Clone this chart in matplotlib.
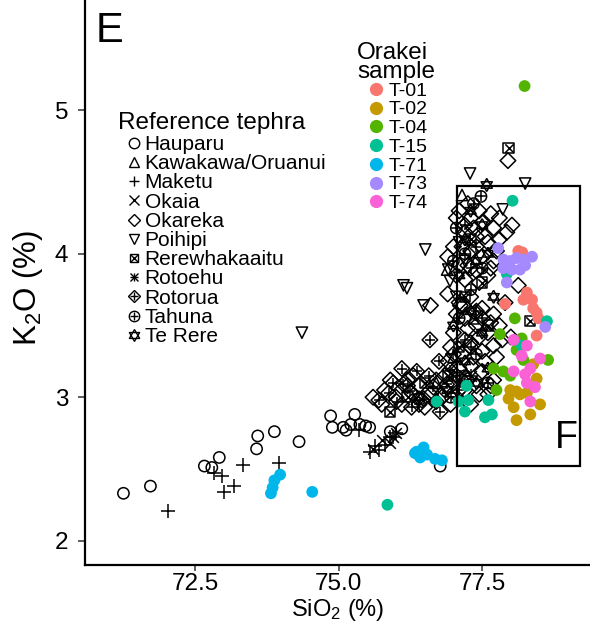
import matplotlib
matplotlib.use("Agg")
import matplotlib.pyplot as plt
from matplotlib.lines import Line2D
from matplotlib.patches import Rectangle

plt.rcParams['font.family'] = ['Liberation Sans', 'DejaVu Sans']
plt.rcParams['mathtext.fontset'] = 'custom'
plt.rcParams['mathtext.rm'] = 'Liberation Sans'
plt.rcParams['mathtext.it'] = 'Liberation Sans:italic'

# ---------------- Reference tephra (SiO2, K2O) ----------------
hauparu_x = [71.25, 71.72, 72.66, 72.79, 72.92, 73.59, 73.57, 73.88, 74.31, 74.86, 74.89, 75.08,
             75.13, 75.28, 75.21, 75.37, 75.47, 75.54, 76.10, 76.77, 75.90]
hauparu_y = [2.33, 2.38, 2.52, 2.51, 2.58, 2.73, 2.64, 2.76, 2.69, 2.87, 2.79, 2.79,
             2.77, 2.88, 2.81, 2.81, 2.80, 2.79, 2.78, 2.52, 2.76]

kawakawa_x = [77.15, 76.89, 77.35, 77.00, 76.70]
kawakawa_y = [4.41, 3.89, 3.55, 3.28, 3.10]

maketu_x = [72.02, 73.01, 73.18, 72.82, 72.96, 73.34, 73.96, 75.55, 75.64, 75.36, 75.80, 75.90, 75.70]
maketu_y = [2.21, 2.34, 2.38, 2.47, 2.45, 2.53, 2.54, 2.62, 2.66, 2.77, 2.67, 2.72, 2.63]

okaia_x = [75.75, 75.90, 75.60]
okaia_y = [2.70, 2.68, 2.64]

okareka_x = [77.10, 77.30, 77.50, 77.70, 77.20, 77.40, 77.60, 77.80, 77.00, 77.30, 77.50, 77.70,
             77.10, 77.40, 77.60, 76.90, 77.20, 77.80, 77.95, 78.02, 77.93,
             77.05, 77.25, 77.45, 77.65, 77.15, 77.35, 77.55, 77.75, 77.05, 77.25, 77.45, 77.65,
             76.90, 77.10, 77.30, 77.50, 77.70, 77.90, 78.13, 77.20, 77.40, 77.60, 77.80, 78.00,
             77.00, 77.30, 77.50, 77.70, 76.60, 77.12, 77.17, 77.38,
             77.05, 77.25, 77.45, 77.65, 77.85, 76.95, 77.15, 77.35, 77.55, 77.75,
             76.90, 77.10, 77.30, 77.50, 77.70, 77.00, 77.20, 77.40, 77.60, 76.80, 77.30,
             76.85, 77.05, 77.25, 77.45, 77.65, 76.95,
             75.80, 76.00, 76.20, 76.40, 76.60, 76.10, 76.50, 75.90,
             75.60, 75.75, 76.30, 76.70, 76.85, 76.45]
okareka_y = [4.30, 4.25, 4.22, 4.18, 4.15, 4.12, 4.08, 4.10, 4.05, 4.02, 3.98, 3.95,
             3.92, 3.88, 3.85, 3.98, 3.82, 4.25, 4.65, 4.20, 4.15,
             4.25, 4.35, 4.30, 4.28, 4.05, 4.18, 4.12, 4.02, 3.85, 3.92, 3.80, 3.90,
             3.72, 3.66, 3.70, 3.62, 3.58, 3.66, 3.78, 3.55, 3.50, 3.45, 3.50, 3.42,
             3.45, 3.38, 3.32, 3.36, 3.64, 3.64, 3.64, 3.59,
             3.58, 3.48, 3.42, 3.52, 3.40, 3.35, 3.30, 3.28, 3.25, 3.28,
             3.25, 3.20, 3.22, 3.18, 3.12, 3.10, 3.05, 3.08, 3.02, 3.00, 2.95,
             3.15, 3.15, 3.12, 3.02, 3.08, 2.95,
             3.05, 3.00, 3.12, 3.08, 3.02, 2.95, 2.93, 3.12,
             3.00, 2.95, 3.15, 3.12, 3.05, 2.98]

poihipi_x = [74.36, 76.51, 76.19, 76.13, 76.48, 76.94, 76.91, 77.29, 78.25, 77.86, 77.10, 77.20, 77.05]
poihipi_y = [3.45, 4.03, 3.76, 3.78, 3.64, 3.81, 3.89, 4.56, 4.49, 4.31, 4.08, 3.95, 3.70]

rerew_x = [77.96, 78.34, 77.30, 77.50, 77.20, 77.60, 77.10, 76.90, 76.20, 75.90, 76.50]
rerew_y = [4.74, 3.53, 4.10, 3.80, 3.70, 3.50, 3.35, 3.15, 3.00, 2.90, 3.10]

rotoehu_x = [75.95, 76.00, 77.10, 77.30]
rotoehu_y = [2.72, 2.75, 3.00, 3.15]

rotorua_x = [75.87, 76.13, 76.36, 76.57, 76.94, 76.27, 76.48, 76.77, 76.01, 76.25, 76.65, 76.88,
             77.12, 76.59, 75.70, 76.10, 76.75, 77.00, 77.20, 77.40, 77.30,
             75.95, 76.40, 76.70, 76.20, 77.10, 77.30, 77.50, 77.20, 77.40]
rotorua_y = [3.03, 3.09, 3.18, 3.15, 3.19, 2.93, 2.99, 2.90, 2.97, 3.04, 3.07, 3.09,
             3.13, 3.40, 2.98, 3.20, 3.25, 3.30, 3.40, 3.60, 3.90,
             3.10, 2.95, 2.97, 3.08, 3.05, 3.35, 3.55, 4.20, 4.05]

tahuna_x = [77.48, 77.35, 77.05, 77.20, 77.00, 77.50, 77.30, 77.10, 77.40, 77.20, 76.95, 77.60]
tahuna_y = [4.40, 4.35, 4.18, 4.00, 3.95, 3.90, 3.75, 3.55, 3.30, 3.15, 3.00, 3.10]

terere_x = [77.58, 77.30, 77.50, 77.20, 77.60, 77.40, 77.10, 77.30, 77.50, 77.20, 77.60, 77.40,
            76.90, 76.40, 77.00, 77.70]
terere_y = [4.48, 4.30, 4.20, 4.10, 4.00, 3.95, 3.85, 3.60, 3.45, 3.25, 3.20, 3.10,
            3.05, 3.00, 3.50, 3.70]

# ---------------- Orakei samples ----------------
t01_x = [78.13, 78.20, 78.28, 78.22, 78.37, 78.39, 78.45, 78.48, 77.90, 78.45]
t01_y = [4.02, 4.01, 3.73, 3.68, 3.68, 3.62, 3.59, 3.55, 3.65, 3.43]
t02_x = [78.39, 78.45, 77.99, 78.16, 78.10, 78.28, 78.05, 78.10, 78.34, 78.51, 77.96]
t02_y = [3.23, 3.13, 3.05, 3.02, 3.04, 3.03, 2.93, 2.84, 2.88, 2.95, 2.99]
t04_x = [78.24, 78.07, 77.81, 78.19, 78.10, 78.65, 77.70, 77.87, 77.99, 77.75, 78.22]
t04_y = [5.17, 3.55, 3.44, 3.41, 3.33, 3.26, 3.20, 3.18, 3.15, 3.05, 3.26]
t15_x = [75.85, 78.03, 76.71, 77.23, 77.09, 77.26, 77.20, 77.55, 77.67, 77.61, 78.63, 78.19, 77.93]
t15_y = [2.25, 4.37, 2.97, 3.08, 2.97, 2.98, 2.90, 2.86, 2.88, 2.98, 3.53, 3.36, 3.86]
t71_x = [73.98, 73.88, 73.85, 73.82, 74.54, 76.36, 76.48, 76.42, 76.54, 76.68, 76.80, 76.33]
t71_y = [2.46, 2.42, 2.37, 2.33, 2.34, 2.62, 2.65, 2.58, 2.60, 2.57, 2.56, 2.61]
t73_x = [77.78, 77.87, 77.99, 78.10, 78.22, 78.37, 77.87, 78.02, 78.16, 78.25, 77.93, 78.60]
t73_y = [4.04, 3.96, 3.95, 3.97, 3.96, 3.98, 3.90, 3.89, 3.89, 3.92, 3.80, 3.49]
t74_x = [78.05, 78.28, 78.19, 78.51, 78.34, 78.05, 78.25, 78.28, 78.42, 78.34]
t74_y = [3.40, 3.36, 3.29, 3.27, 3.20, 3.18, 3.16, 3.10, 3.07, 2.97]

sample_names = ["T-01", "T-02", "T-04", "T-15", "T-71", "T-73", "T-74"]
sample_colors = ["#F8766D", "#C49A00", "#53B400", "#00C094", "#00B6EB", "#A58AFF", "#FB61D7"]

box_x = [77.06, 79.21]
box_y = [2.52, 4.47]

# centroid-centred triangles (ggplot style) for the hexagram marker
TRI_UP = [(0, 1), (-0.866, -0.5), (0.866, -0.5), (0, 1)]
TRI_DN = [(0, -1), (-0.866, 0.5), (0.866, 0.5), (0, -1)]

W, H = 590, 632
fig = plt.figure(figsize=(W / 100, H / 100), dpi=100)
ax = fig.add_axes([85 / W, 1 - 565 / H, 505 / W, 565 / H])
ax.set_xlim(70.58, 79.38)
ax.set_ylim(1.83, 5.77)

S = 66
LW = 1.1
ref = [
    ("Hauparu", hauparu_x, hauparu_y, ["o"]),
    ("Kawakawa/Oruanui", kawakawa_x, kawakawa_y, ["^"]),
    ("Maketu", maketu_x, maketu_y, ["+"]),
    ("Okaia", okaia_x, okaia_y, ["x"]),
    ("Okareka", okareka_x, okareka_y, ["D"]),
    ("Poihipi", poihipi_x, poihipi_y, ["v"]),
    ("Rerewhakaaitu", rerew_x, rerew_y, ["s", "x"]),
    ("Rotoehu", rotoehu_x, rotoehu_y, ["+", "x"]),
    ("Rotorua", rotorua_x, rotorua_y, ["D", "+"]),
    ("Tahuna", tahuna_x, tahuna_y, ["o", "+"]),
    ("Te Rere", terere_x, terere_y, ["tu", "td"]),
]
MARKERS = {"tu": TRI_UP, "td": TRI_DN}

sizes = {"o": S, "^": S, "v": S, "D": S * 0.95, "s": S * 0.8, "+": S * 1.4, "x": S * 0.9,
         "tu": S * 1.3, "td": S * 1.3}
for name, xs, ys, mks in ref:
    for m in mks:
        s = sizes[m]
        if len(mks) > 1 and m in ("+", "x"):
            if mks[0] == "s":
                s = S * 0.55
            elif mks[0] in ("D", "o"):
                s = S * 0.9
        mm = MARKERS.get(m, m)
        if m in ("+", "x"):
            ax.scatter(xs, ys, marker=mm, s=s, c="black", linewidths=LW, zorder=2)
        else:
            ax.scatter(xs, ys, marker=mm, s=s, facecolors="none", edgecolors="black",
                       linewidths=LW, zorder=2)

sample_data = [(t01_x, t01_y), (t02_x, t02_y), (t04_x, t04_y), (t15_x, t15_y),
               (t71_x, t71_y), (t73_x, t73_y), (t74_x, t74_y)]
for (xs, ys), col in zip(sample_data, sample_colors):
    ax.scatter(xs, ys, s=72, c=col, edgecolors="none", zorder=3)

ax.add_patch(Rectangle((box_x[0], box_y[0]), box_x[1] - box_x[0], box_y[1] - box_y[0],
                       fill=False, edgecolor="black", linewidth=1.6, zorder=4))
ax.text(box_x[1] - 0.04, box_y[0] + 0.07, "F", fontsize=27, ha="right", va="bottom", zorder=5)
ax.text(70.77, 5.69, "E", fontsize=30, ha="left", va="top")

ax.set_xticks([72.5, 75.0, 77.5])
ax.set_xticklabels(["72.5", "75.0", "77.5"])
ax.set_yticks([2, 3, 4, 5])
ax.tick_params(axis="x", labelsize=17.5, length=4, width=1.1, color="#333333", pad=2)
ax.tick_params(axis="y", labelsize=17.5, length=5, width=1.1, color="#333333", pad=7)
for sp in ["top", "right"]:
    ax.spines[sp].set_visible(False)
for sp in ["left", "bottom"]:
    ax.spines[sp].set_linewidth(1.6)
ax.set_xlabel("SiO$_2$ (%)", fontsize=17)
ax.set_ylabel("K$_2$O (%)", fontsize=22.5)
ax.xaxis.set_label_coords(0.5, -0.057)
ax.yaxis.set_label_coords(-0.079, 0.49)

# legends
def mk(m, s_pts=7.5):
    mm = MARKERS.get(m, m)
    if m in ("+", "x"):
        return Line2D([], [], marker=mm, color="black", linestyle="none", markersize=s_pts,
                      markeredgewidth=1.0)
    return Line2D([], [], marker=mm, markerfacecolor="none", markeredgecolor="black",
                  linestyle="none", markersize=s_pts * (0.8 if m in ("D", "s") else 1.0),
                  markeredgewidth=1.0)

handles1 = []
labels1 = []
for name, xs, ys, mks in ref:
    if len(mks) == 1:
        handles1.append(mk(mks[0]))
    else:
        handles1.append(tuple(mk(m, 6.0 if m in ("+", "x") else (8.5 if m in ("tu", "td") else 7.5))
                              for m in mks))
    labels1.append(name)

fig.text(118 / W, 1 - 123 / H, "Reference tephra", fontsize=17.5, ha="left", va="center")
leg1 = fig.legend(handles1, labels1, loc="upper left",
                  bbox_to_anchor=(128 / W, 1 - 135 / H), frameon=False, fontsize=15,
                  handlelength=0.6, handletextpad=0.2,
                  labelspacing=0.01, borderpad=0.0, borderaxespad=0.0)

fig.text(357 / W, 1 - 42 / H, "Orakei\nsample", fontsize=17.5, ha="left", va="top",
         linespacing=0.85)
handles2 = [Line2D([], [], marker="o", color=c, linestyle="none", markersize=9.5,
                   markeredgewidth=0) for c in sample_colors]
leg2 = fig.legend(handles2, sample_names, loc="upper left",
                  bbox_to_anchor=(369 / W, 1 - 82 / H), frameon=False, fontsize=14,
                  handlelength=0.7, handletextpad=0.3,
                  labelspacing=0.06, borderpad=0.0, borderaxespad=0.0)

fig.savefig("out.png", dpi=100)
